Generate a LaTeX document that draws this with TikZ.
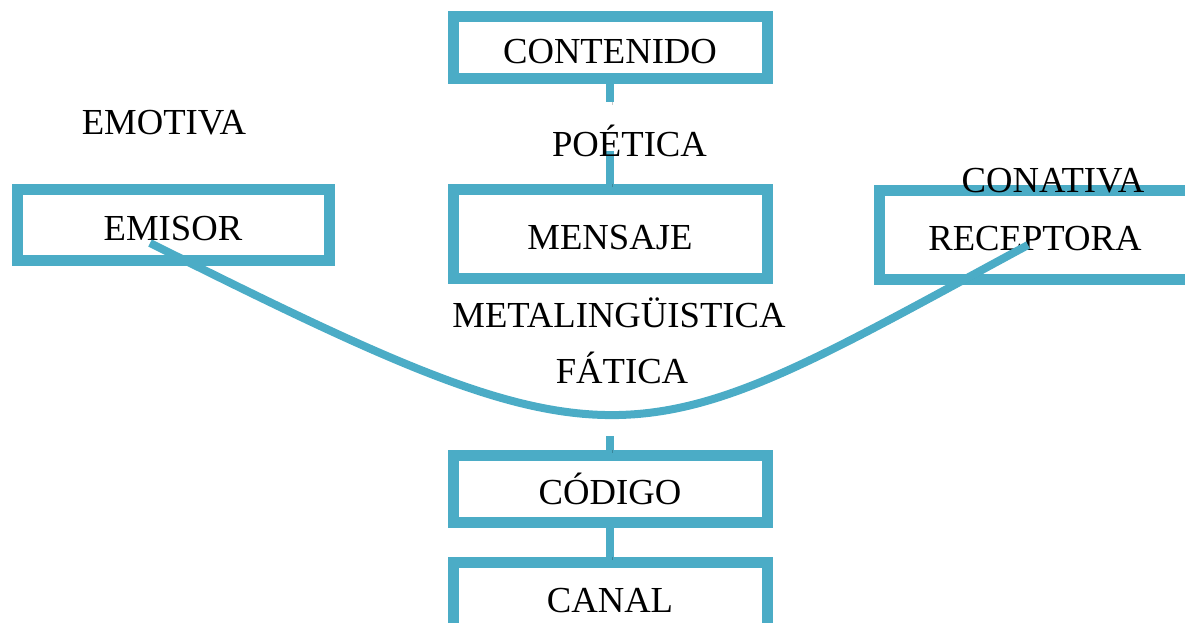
\documentclass[tikz,border=0pt]{standalone}
\usepackage{fontspec}
\setmainfont{Liberation Serif}
\definecolor{azul}{HTML}{4BACC6}

\begin{document}
\begin{tikzpicture}[x=0.75pt,y=-0.75pt,
  every node/.style={font=\fontsize{27.5}{33}\selectfont},
  caja/.style={draw=azul,line width=8.25pt,minimum width=235.5pt,text height=23.25pt,text depth=0pt,inner sep=0pt},
  sombra/.style={preaction={draw=black,opacity=0.22,transform canvas={xshift=1.5pt,yshift=-2pt}}},
  linea/.style={draw=azul,line width=6pt,sombra},
  curva/.style={draw=azul,line width=6pt,sombra},
  etiq/.style={anchor=base,inner sep=0pt}]
\useasboundingbox (0,0) rectangle (1185,623);
\clip (0,0) rectangle (1185,623);

%boxes
\node[caja,minimum height=46.5pt] (contenido) at (610,48) {CONTENIDO};
\node[caja,minimum height=66.75pt] (mensaje) at (610,234.5) {MENSAJE};
\node[caja,minimum width=234pt,minimum height=53.25pt] (emisor) at (173,225.5) {EMISOR};
\node[caja,minimum width=233.25pt,minimum height=66.4pt] (receptora) at (1035,235) {RECEPTORA};
\node[caja,minimum height=50.25pt] (codigo) at (610,489) {CÓDIGO};
\node[caja,minimum height=51pt] (canal) at (610,596.5) {CANAL};

%vertical connectors
\coordinate (c1) at (610,102);
\coordinate (c2) at (610,151);
\coordinate (c3) at (610,436);
\draw[linea] (contenido) -- (c1);
\draw[linea] (c2) -- (mensaje);
\draw[linea] (c3) -- (codigo);
\draw[linea] (codigo) -- (canal);

%emisor - receptora curve
\coordinate (ini) at (150,243);
\coordinate (fin) at (1028,245);
\draw[curva] (ini) .. controls (630,483) and (628,461) .. (fin);

%functions
\node[etiq] (emotiva) at (164,135) {EMOTIVA};
\node[etiq] (poetica) at (629.5,157) {POÉTICA};
\node[etiq] (metaling) at (619,328) {METALINGÜISTICA};
\node[etiq] (fatica) at (622,384) {FÁTICA};
\node[etiq] (conativa) at (1053,193) {CONATIVA};

\end{tikzpicture}
\end{document}
